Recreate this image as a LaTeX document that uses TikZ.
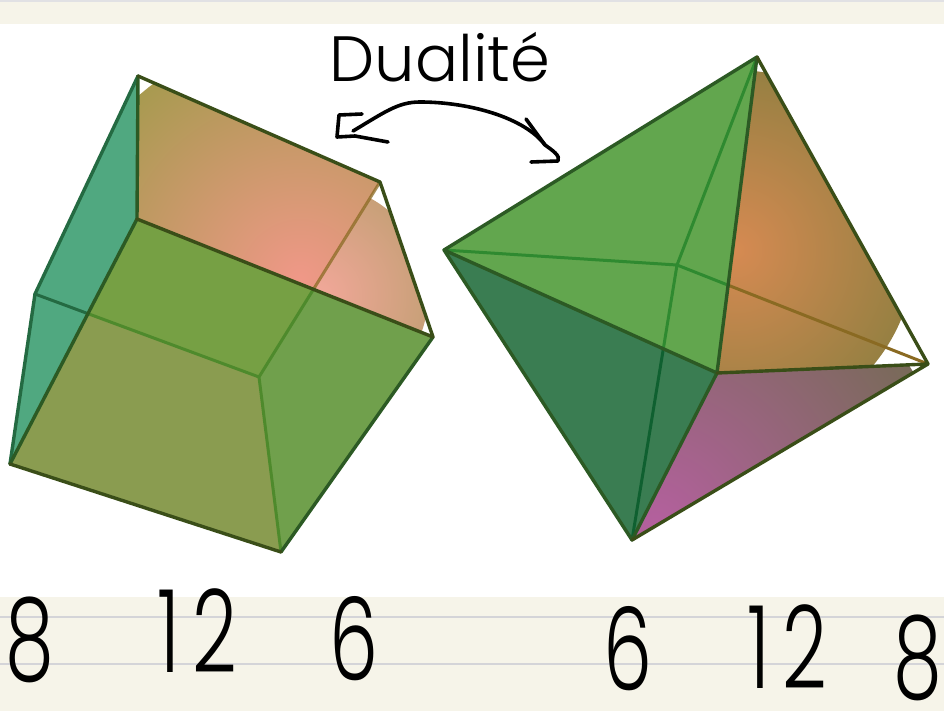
\documentclass[tikz,border=0pt]{standalone}
\usepackage{fontspec}
\setmainfont{Poppins Light}
\usetikzlibrary{calc}
\definecolor{paper}{HTML}{F6F4E9}
\definecolor{rulel}{HTML}{D4D4D8}
\definecolor{edged}{HTML}{3A4E18}
\definecolor{edgeg}{HTML}{2C5A24}
\definecolor{edget}{HTML}{246A42}
\definecolor{backg}{HTML}{4E8A2C}
\definecolor{backgb}{HTML}{2F8A30}
\definecolor{backdk}{HTML}{0F6030}
\definecolor{backbr}{HTML}{8A6A22}
\definecolor{teala}{HTML}{50A880}
\definecolor{tan1}{HTML}{A89A50}
\definecolor{pink1}{HTML}{F09888}
\definecolor{tan2}{HTML}{C8A078}
\definecolor{upg}{HTML}{76A044}
\definecolor{lowg}{HTML}{8A9C50}
\definecolor{rig}{HTML}{70A04C}
\definecolor{ogreen}{HTML}{62A64E}
\definecolor{odark}{HTML}{3A7D52}
\definecolor{oor}{HTML}{D68A52}
\definecolor{oorb}{HTML}{968042}
\definecolor{omag}{HTML}{B4609E}
\definecolor{obrn}{HTML}{786A58}
\tikzset{x=1pt,y=-1pt,
 edgeline/.style={draw=#1,line width=3.4pt,line join=round,line cap=round},
 backline/.style={draw=#1,line width=3pt,line cap=round},
 hand/.style={text=black,inner sep=0pt,anchor=base,xscale=.78,yscale=1.15,font=\fontsize{100}{100}\selectfont},
 titletext/.style={text=black,inner sep=0pt,anchor=base,font=\fontsize{64}{64}\selectfont},
 pen/.style={draw=black,line width=3.6pt,line cap=round,line join=round}}
\begin{document}
\begin{tikzpicture}
\useasboundingbox (0,0) rectangle (944,711);
\fill[white] (0,0) rectangle (944,711);
\fill[paper] (0,0) rectangle (944,24);
\fill[rulel!70!white] (0,0) rectangle (944,2.5);
\fill[paper] (0,597) rectangle (944,711);
\draw[rulel,line width=1.4pt] (0,617)--(944,617) (0,664)--(944,664);
% cube
\coordinate (a) at (138,76);\coordinate (b) at (380,182);\coordinate (c) at (433,337);
\coordinate (d) at (281,552);\coordinate (e) at (10,464);\coordinate (f) at (35,294);
\coordinate (g) at (137,219);\coordinate (h) at (259,377);
\coordinate (x1) at (intersection of f--h and g--e);
\coordinate (x2) at (intersection of h--b and g--c);
\fill[teala] (a)--(g)--(e)--(f)--cycle;
\begin{scope}
 \clip (a)--(b)--(x2)--(g)--cycle;
 \shade[inner color=pink1,outer color=tan1] (300,280) circle (245);
\end{scope}
\begin{scope}
 \clip (b)--(c)--(x2)--cycle;
 \shade[inner color=pink1!85!white,outer color=tan2] (318,295) circle (110);
\end{scope}
\fill[upg] (x1)--(g)--(x2)--(h)--cycle;
\fill[lowg] (x1)--(h)--(d)--(e)--cycle;
\fill[rig] (x2)--(c)--(d)--(h)--cycle;
\draw[backline=edget] (f)--(x1);
\draw[backline=backg] (x1)--(h)--(d) (h)--(x2);
\draw[backline=backbr,opacity=.75] (x2)--(b);
\draw[edgeline=edget] (a)--(f)--(e);
\draw[edgeline=edgeg] (g)--(e) (c)--(d) (a)--(g);
\draw[edgeline=edged] (a)--(b)--(c) (g)--(c) (d)--(e);
% octahedron
\coordinate (t) at (757,57);\coordinate (l) at (444,250);\coordinate (r) at (928,364);
\coordinate (o) at (632,540);\coordinate (n) at (717,373);\coordinate (k) at (677,265);
\coordinate (z) at (intersection of k--r and n--t);
\coordinate (y) at (intersection of k--o and l--n);
\fill[ogreen] (t)--(l)--(n)--cycle;
\fill[odark] (l)--(n)--(o)--cycle;
\begin{scope}
 \clip (t)--(n)--(r)--cycle;
 \shade[inner color=oor,outer color=oorb] (735,250) circle (180);
\end{scope}
\begin{scope}
 \clip (n)--(r)--(o)--cycle;
 \shade[inner color=omag,outer color=obrn] (655,525) circle (300);
\end{scope}
\draw[backline=backgb] (l)--(k)--(t) (k)--(z) (k)--(y);
\draw[backline=backbr] (z)--(r);
\draw[backline=backdk] (y)--(o);
\draw[edgeline=edgeg] (t)--(l)--(o)--(n)--cycle (l)--(n);
\draw[edgeline=edged] (t)--(r)--(o) (n)--(r);
% handwriting
\node[titletext] (title) at (440,82) {Dualité};
\coordinate (ar1) at (353,131);\coordinate (ar2) at (545,145);
\draw[pen] (ar1) .. controls (385,112) and (398,102) .. (420,102) .. controls (470,102) and (525,118) .. (ar2);
\draw[pen] (362,114)--(339,115)--(337,137)--(355,136)--(388,142);
\draw[pen] (526,119)--(545,145) .. controls (552,150) and (561,156) .. (558,161)--(531,162);
\node[hand] (n1) at (30,680) {8};
\node[hand] (n2) at (197,672) {1\kern16pt 2};
\node[hand] (n3) at (354,680) {6};
\node[hand] (n4) at (628,690) {6};
\node[hand] (n5) at (787,688) {1\kern16pt 2};
\node[hand] (n6) at (918,698) {8};
\end{tikzpicture}
\end{document}
